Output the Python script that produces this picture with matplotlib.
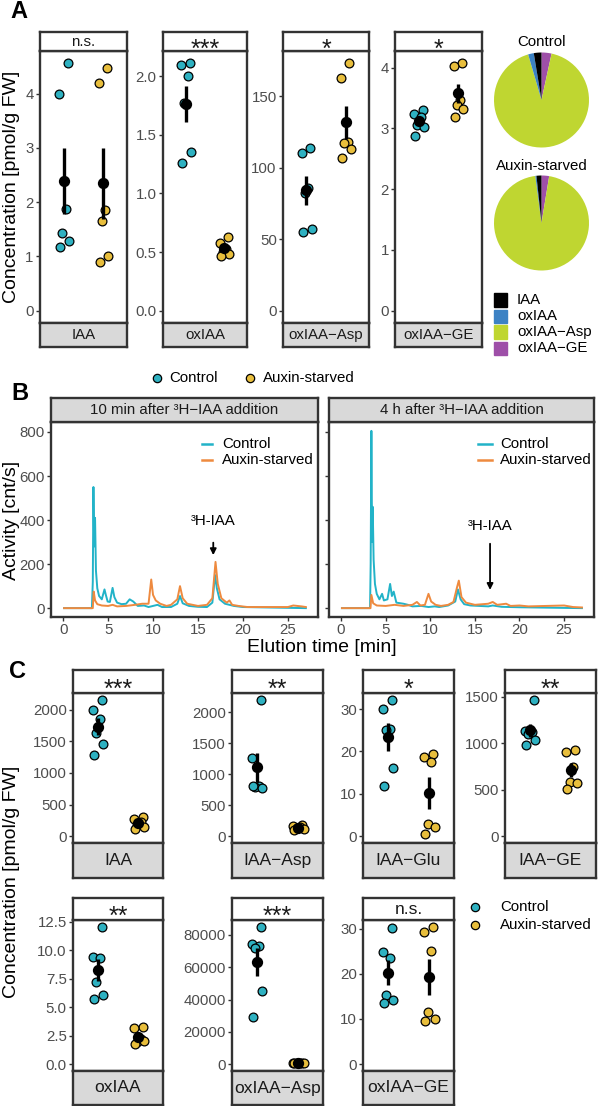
import numpy as np
import matplotlib.pyplot as plt
from matplotlib.transforms import offset_copy

plt.rcParams['font.family'] = ['Liberation Sans', 'DejaVu Sans']

# ---------------- data ----------------
# A: IAA and oxIAA metabolites [pmol/g FW]
a_labels = ['IAA', 'oxIAA', 'oxIAA−Asp', 'oxIAA−GE']
a_signif = ['n.s.', '***', '*', '*']
a_control = [
    [4.56, 3.99, 1.88, 1.44, 1.28, 1.17],
    [2.11, 2.10, 2.00, 1.77, 1.35, 1.26],
    [114, 110.5, 86, 82.5, 57.4, 55],
    [3.31, 3.24, 3.18, 3.05, 3.03, 2.88],
]
a_starved = [
    [4.48, 4.19, 1.86, 1.65, 1.00, 0.89],
    [0.63, 0.58, 0.53, 0.50, 0.48, 0.47],
    [173, 163, 118, 117, 113, 107],
    [4.07, 4.02, 3.47, 3.39, 3.32, 3.18],
]
a_yticks = [[0, 1, 2, 3, 4], [0, 0.5, 1, 1.5, 2], [0, 50, 100, 150], [0, 1, 2, 3, 4]]
a_yticklabels = [['0', '1', '2', '3', '4'], ['0.0', '0.5', '1.0', '1.5', '2.0'],
                 ['0', '50', '100', '150'], ['0', '1', '2', '3', '4']]
pie_titles = ['Control', 'Auxin-starved']

# B: radio-chromatograms, activity [cnt/s] vs elution time [min]
b_titles = ['10 min after ³H−IAA addition', '4 h after ³H−IAA addition']
b10_ctrl_t = [0.1, 3.2, 3.3, 3.37, 3.45, 3.55, 3.65, 3.8, 4.0, 4.3, 4.6, 4.75, 4.95, 5.2, 5.5,
              5.7, 6.0, 6.5, 7.0, 7.4, 7.8, 8.3, 9.0, 9.5, 10.0, 10.5, 11.0, 12.0, 12.7, 13.0,
              13.3, 14.0, 15.0, 16.0, 16.6, 16.9, 17.1, 17.4, 18.0, 19.0, 20.0, 27.0]
b10_ctrl_v = [0, 0, 120, 550, 280, 410, 170, 90, 55, 40, 85, 60, 30, 28, 92,
              50, 25, 18, 20, 40, 30, 10, 12, 5, 10, 15, 5, 5, 20, 55,
              22, 10, 6, 5, 25, 150, 90, 40, 20, 10, 5, 0]
b10_aux_t = [0.1, 3.3, 3.4, 3.55, 3.8, 4.3, 5.0, 5.5, 6.0, 7.0, 8.0, 8.8, 9.5, 9.8, 10.0,
             10.3, 10.8, 11.5, 12.0, 12.7, 13.0, 13.3, 13.8, 15.0, 16.0, 16.6, 16.95, 17.2,
             17.6, 18.2, 18.5, 18.8, 19.5, 20.5, 25.0, 25.6, 26.5, 27.0]
b10_aux_v = [0, 0, 75, 35, 18, 12, 10, 15, 8, 10, 15, 20, 20, 130, 60,
             35, 20, 10, 15, 40, 100, 45, 20, 10, 15, 45, 210, 110,
             45, 25, 35, 15, 10, 5, 5, 12, 8, 5]
b4_ctrl_t = [0.1, 3.25, 3.32, 3.4, 3.48, 3.55, 3.65, 3.8, 4.0, 4.3, 4.6, 4.8, 5.2, 5.5, 5.7,
             5.9, 6.2, 7.0, 7.5, 8.0, 9.0, 9.8, 10.5, 11.0, 12.0, 12.8, 13.1, 13.4, 13.8,
             14.5, 15.5, 16.5, 17.0, 18.0, 20.0, 27.0]
b4_ctrl_v = [0, 0, 200, 805, 300, 460, 220, 110, 65, 40, 65, 35, 40, 110, 55,
             75, 25, 20, 15, 8, 10, 5, 8, 5, 12, 30, 85, 40, 18,
             12, 10, 8, 12, 6, 4, 0]
b4_aux_t = [0.1, 3.3, 3.4, 3.6, 4.0, 5.0, 6.0, 7.0, 8.0, 8.5, 8.9, 9.4, 9.8, 10.1, 10.6,
            11.2, 12.0, 12.6, 13.0, 13.2, 13.5, 14.0, 15.0, 16.5, 17.0, 17.5, 18.5, 19.0,
            20.0, 21.0, 23.0, 25.0, 26.0, 27.0]
b4_aux_v = [0, 0, 60, 22, 12, 10, 15, 10, 15, 28, 12, 15, 65, 30, 15,
            10, 15, 28, 95, 125, 50, 25, 15, 20, 28, 15, 20, 10,
            12, 8, 10, 12, 5, 3]
b_xticks = [0, 5, 10, 15, 20, 25]
b_yticks = [0, 200, 400, 600, 800]

# C: IAA metabolites [pmol/g FW]
c_labels = ['IAA', 'IAA−Asp', 'IAA−Glu', 'IAA−GE', 'oxIAA', 'oxIAA−Asp', 'oxIAA−GE']
c_signif = ['***', '**', '*', '**', '**', '***', 'n.s.']
c_control = [
    [2155, 1990, 1857, 1629, 1459, 1289],
    [2200, 1264, 806, 800, 780, 810],
    [32.2, 30.0, 25.3, 25.0, 16.2, 11.8],
    [1467, 1133, 1120, 1098, 1038, 982],
    [12.07, 9.43, 9.3, 7.2, 6.06, 5.73],
    [85000, 74500, 73000, 72000, 45500, 29000],
    [30.2, 24.9, 23.4, 15.3, 14.2, 13.5],
]
c_starved = [
    [300, 265, 230, 175, 140, 110],
    [180, 170, 150, 130, 110, 100],
    [19.5, 18.7, 17.4, 2.9, 2.1, 0.6],
    [930, 906, 748, 579, 575, 512],
    [3.29, 3.2, 2.2, 1.96, 2.0, 1.8],
    [900, 800, 700, 600, 500, 400],
    [30.4, 29.3, 25.0, 11.6, 10.0, 9.6],
]
c_yticks = [[0, 500, 1000, 1500, 2000], [0, 500, 1000, 1500, 2000], [0, 10, 20, 30],
            [0, 500, 1000, 1500], [0, 2.5, 5, 7.5, 10, 12.5],
            [0, 20000, 40000, 60000, 80000], [0, 10, 20, 30]]
c_yticklabels = [['0', '500', '1000', '1500', '2000'], ['0', '500', '1000', '1500', '2000'],
                 ['0', '10', '20', '30'], ['0', '500', '1000', '1500'],
                 ['0.0', '2.5', '5.0', '7.5', '10.0', '12.5'],
                 ['0', '20000', '40000', '60000', '80000'], ['0', '10', '20', '30']]

group_names = ['Control', 'Auxin-starved']

# ---------------- style ----------------
TEAL = '#2EB1C1'
GOLD = '#E8BE3C'
LINE_TEAL = '#22B3C8'
LINE_ORANGE = '#EE8A3F'
PIE_COLS = ['#000000', '#3C82C4', '#BFD631', '#9E4FA8']
EDGE = '#333333'
TXT = '#4D4D4D'
GREY = '#D9D9D9'
JIT = np.array([0.1, -0.12, 0.05, -0.04, 0.13, -0.09])

W, H = 598, 1106
fig = plt.figure(figsize=(W / 100, H / 100), dpi=100)


def px_axes(x0, y0, x1, y1):
    return fig.add_axes([x0 / W, 1 - y1 / H, (x1 - x0) / W, (y1 - y0) / H])


def frame(ax, lw=1.7):
    for sp in ax.spines.values():
        sp.set_color(EDGE)
        sp.set_linewidth(lw)


def strip(x0, y0, x1, y1, text, face, size):
    s = px_axes(x0, y0, x1, y1)
    s.set_facecolor(face)
    s.set_xticks([])
    s.set_yticks([])
    frame(s)
    if set(text) == {'*'}:
        # asterisks are drawn large and centred on their glyph, not the line box
        fs = 18
        tr = offset_copy(s.transAxes, fig=fig, y=-0.6 * fs, units='points')
        s.text(0.5, 0.5, text, transform=tr, ha='center', va='baseline',
               fontsize=fs, color='#1A1A1A')
    else:
        s.text(0.5, 0.5, text, transform=s.transAxes, ha='center', va='center',
               fontsize=size, color='#1A1A1A', clip_on=True)
    return s


def dot_facet(x0, x1, ys, ctrl, starv, sig, name, ticks, ticklabels, size, tsize):
    y_top, y_pan, y_bot, y_end = ys
    ax = px_axes(x0, y_pan, x1, y_bot)
    hi, lo = 0, 0
    for xpos, vals, col in ((1, ctrl, TEAL), (2, starv, GOLD)):
        vals = np.asarray(vals, float)
        m = vals.mean()
        se = vals.std(ddof=1) / np.sqrt(len(vals))
        ax.scatter(xpos + JIT[:len(vals)], vals, s=40, c=col, edgecolors='black',
                   linewidths=0.9, zorder=3)
        ax.plot([xpos, xpos], [m - se, m + se], color='black', lw=2.4, zorder=4,
                solid_capstyle='butt')
        ax.scatter([xpos], [m], s=66, c='black', zorder=5, linewidths=0)
        hi = max(hi, vals.max(), m + se)
        lo = min(lo, vals.min())
    r = hi - lo
    ax.set_ylim(lo - 0.05 * r, hi + 0.05 * r)
    ax.set_xlim(0.4, 2.6)
    ax.set_xticks([])
    ax.set_yticks(ticks)
    ax.set_yticklabels(ticklabels)
    ax.tick_params(axis='y', length=3, width=1, color=EDGE, labelcolor=TXT,
                   labelsize=tsize, pad=1.5)
    frame(ax)
    strip(x0, y_top, x1, y_pan, sig, 'white', size)
    strip(x0, y_bot, x1, y_end, name, GREY, size)
    return ax


# ---------------- panel A ----------------
a_cols = [(40, 127), (163, 247), (283, 369), (395, 482)]
a_rows = (32, 51, 323, 347)
for i, (x0, x1) in enumerate(a_cols):
    dot_facet(x0, x1, a_rows, a_control[i], a_starved[i], a_signif[i], a_labels[i],
              a_yticks[i], a_yticklabels[i], 10.8, 10.8)

fig.text(12 / W, 1 - 187 / H, 'Concentration [pmol/g FW]', rotation=90,
         ha='center', va='center', fontsize=14, color='black')

# pies of mean composition
for k, (groups, cy) in enumerate(((a_control, 100), (a_starved, 223))):
    means = [np.mean(g) for g in groups]
    pax = px_axes(494, cy - 47.5, 589, cy + 47.5)
    # ggplot polar: first level ends at 12 o'clock, clockwise
    pax.pie(means[::-1], colors=PIE_COLS[::-1], startangle=90, counterclock=False,
            radius=1.0, wedgeprops=dict(linewidth=0))
    pax.set_xlim(-1, 1)
    pax.set_ylim(-1, 1)
    pax.set_aspect('auto')
    pax.axis('off')
    fig.text(541.5 / W, 1 - (cy - 57.5) / H, pie_titles[k], ha='center', va='center',
             fontsize=10.8, color='black')

for j, lab in enumerate(a_labels):
    y = 300 + 16 * j
    fig.patches.append(plt.Rectangle((494 / W, 1 - (y + 6.5) / H), 13 / W, 13 / H,
                                     transform=fig.transFigure, color=PIE_COLS[j]))
    fig.text(517 / W, 1 - y / H, lab, ha='left', va='center', fontsize=10.8)

# legend of groups
for xd, xt, col, lab in ((157, 169, TEAL, group_names[0]), (250, 263, GOLD, group_names[1])):
    fig.add_artist(plt.Line2D([xd / W], [1 - 378 / H], marker='o', ms=6, mfc=col,
                              mec='black', mew=0.9, ls='none', transform=fig.transFigure))
    fig.text(xt / W, 1 - 378 / H, lab, ha='left', va='center', fontsize=10.8)

# ---------------- panel B ----------------
b_cols = [(51, 318), (329, 594)]
b_traces = [((b10_ctrl_t, b10_ctrl_v), (b10_aux_t, b10_aux_v)),
            ((b4_ctrl_t, b4_ctrl_v), (b4_aux_t, b4_aux_v))]
b_arrows = [(395, 310, 228), (372, 305, 70)]
b_leg = [(202, 212, 222), (478, 492, 500)]
for i, (x0, x1) in enumerate(b_cols):
    ax = px_axes(x0, 422, x1, 617)
    (ct, cv), (at, av) = b_traces[i]
    ax.plot(ct, cv, color=LINE_TEAL, lw=1.4, zorder=2)
    ax.plot(at, av, color=LINE_ORANGE, lw=1.4, zorder=3)
    tmin, tmax = 0, 27
    ax.set_xlim(tmin - 0.05 * (tmax - tmin), tmax + 0.05 * (tmax - tmin))
    ymax = max(max(cv) for _, cv in b_traces[0] + b_traces[1])
    ax.set_ylim(-0.05 * ymax, 1.05 * ymax)
    ax.set_xticks(b_xticks)
    ax.set_yticks(b_yticks)
    if i > 0:
        ax.set_yticklabels([])
        ax.tick_params(axis='y', length=0)
    ax.tick_params(length=3, width=1, color=EDGE, labelcolor=TXT, labelsize=10.8, pad=1.5)
    frame(ax)
    ty, a0, a1 = b_arrows[i]
    ax.text(16.7, ty, '³H-IAA', ha='center', va='center', fontsize=10.8)
    ax.annotate('', xy=(16.7, a1), xytext=(16.7, a0),
                arrowprops=dict(arrowstyle='-|>', color='black', lw=1.3, mutation_scale=9))
    strip(x0, 398, x1, 422, b_titles[i], GREY, 10.8)
    kx0, kx1, tx = b_leg[i]
    for yy, col, lab in ((444, LINE_TEAL, group_names[0]), (460, LINE_ORANGE, group_names[1])):
        fig.add_artist(plt.Line2D([kx0 / W, kx1 / W], [1 - yy / H, 1 - yy / H], color=col,
                                  lw=1.8, transform=fig.transFigure))
        fig.text(tx / W, 1 - yy / H, lab, ha='left', va='center', fontsize=10.8)

fig.text(12 / W, 1 - 520 / H, 'Activity [cnt/s]', rotation=90, ha='center', va='center',
         fontsize=14)
fig.text(322 / W, 1 - 648 / H, 'Elution time [min]', ha='center', va='center', fontsize=14)

# ---------------- panel C ----------------
c_cols = [(73, 163), (232, 323), (363, 454), (505, 596)]
c_rows = [(670, 693, 843, 878), (898, 920, 1071, 1105)]
for i in range(len(c_labels)):
    r, c = divmod(i, 4)
    x0, x1 = c_cols[c]
    dot_facet(x0, x1, c_rows[r], c_control[i], c_starved[i], c_signif[i], c_labels[i],
              c_yticks[i], c_yticklabels[i], 12.5, 10.8)

fig.text(12 / W, 1 - 882 / H, 'Concentration [pmol/g FW]', rotation=90,
         ha='center', va='center', fontsize=14)
for yy, col, lab in ((907, TEAL, group_names[0]), (925, GOLD, group_names[1])):
    fig.add_artist(plt.Line2D([475 / W], [1 - yy / H], marker='o', ms=6, mfc=col,
                              mec='black', mew=0.9, ls='none', transform=fig.transFigure))
    fig.text(500 / W, 1 - yy / H, lab, ha='left', va='center', fontsize=10.8)

# panel letters
for letter, (lx, ly) in {'A': (19, 12), 'B': (20, 393), 'C': (17, 672)}.items():
    fig.text(lx / W, 1 - ly / H, letter, ha='center', va='center', fontsize=17,
             fontweight='bold')

fig.savefig('out.png', dpi=100)
